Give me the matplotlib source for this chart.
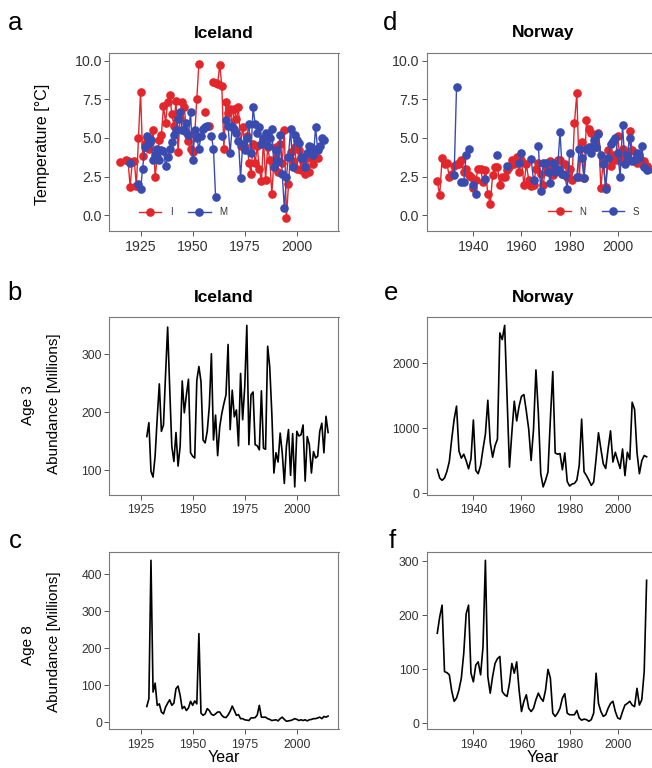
import numpy as np
import matplotlib
matplotlib.use('Agg')
import matplotlib.pyplot as plt
from matplotlib.lines import Line2D

plt.rcParams['font.family'] = ['Liberation Sans', 'DejaVu Sans']

nan = np.nan

# ---------------- data ----------------
# Iceland temperature, series I (red)
I_years = list(range(1915, 2011))
I_temp = [3.45, nan, nan, 3.55, 3.5, 1.85, 3.45, 3.5, 1.9, 5.0,
          8.0, 3.85, 4.6, 5.0, 4.3, 4.9, 5.5, 2.45, 3.8, 4.85,
          5.2, 7.05, 6.0, 7.3, 7.8, 6.55, 5.8, 7.4, 4.1, 6.3,
          7.3, 7.0, 5.4, 4.8, 4.3, 4.1, 5.2, 7.55, 9.8, nan,
          nan, 6.7, nan, 5.8, nan, 8.6, 8.55, 8.5, 9.75, 8.35,
          4.3, 7.3, 6.6, 6.9, 5.7, 6.9, 6.2, 7.0, 4.5, 5.7,
          4.4, 5.1, 3.4, 2.7, 4.6, 3.35, 4.5, 3.0, 2.2, 4.9,
          2.3, 4.4, 3.6, 1.4, 3.5, 4.4, 2.8, 4.6, 3.4, 5.5,
          -0.2, 2.0, 4.1, 3.5, 4.4, 3.0, 4.2, 2.9, 3.5, 2.7,
          3.8, 2.8, 3.7, 3.3, 4.3, 3.7]
# Iceland temperature, series M (blue)
M_years = list(range(1920, 2014))
M_temp = [3.4, nan, nan, nan, 2.0, 1.7, 3.0, 4.4, 5.1, 4.7,
          4.9, 3.6, 3.9, 4.3, 3.6, 4.2, 4.15, 3.2, 3.8, 4.3,
          4.75, 5.2, 5.5, 6.2, 6.7, 5.5, 5.5, 6.0, 5.2, 6.7,
          3.6, 5.5, 5.0, 4.3, 5.1, 5.6, 5.7, 5.8, nan, 5.1,
          4.3, 1.2, nan, nan, 5.15, nan, 6.15, 5.8, 4.0, 5.8,
          5.6, 5.3, 4.8, 2.4, 4.6, 4.2, 5.0, 5.9, 4.0, 7.0,
          5.9, 5.3, 5.7, 4.6, 5.0, 5.3, 4.5, 5.0, 5.55, 3.1,
          4.2, 3.5, 5.2, 2.7, 0.45, 2.5, 3.8, 5.6, 3.1, 5.2,
          4.9, 4.7, 3.7, 3.8, 3.1, 4.0, 4.5, 4.4, 3.9, 5.7,
          4.2, 4.5, 5.0, 4.85]
# Norway temperature, series N (red)
N_years = list(range(1925, 2014))
N_temp = [2.2, 1.3, 3.7, 3.3, 3.35, 2.5, 2.7, 3.2, 3.3, 3.3,
          3.55, 2.8, 3.0, 2.6, 2.5, 1.75, 2.3, 3.0, 3.0, 2.15,
          2.9, 1.4, 0.7, 2.6, 3.1, 3.15, 1.95, 2.5, 2.5, 2.9,
          3.1, 3.55, 3.3, 3.75, 2.8, 3.6, 1.95, 3.3, 2.3, 1.9,
          1.95, 3.0, 3.4, 2.7, 1.95, 3.1, 2.9, 3.5, 2.6, 3.0,
          3.6, 3.6, 2.7, 3.3, 2.5, 3.0, 2.3, 5.95, 7.9, 2.5,
          4.75, 2.4, 6.15, 5.6, 5.3, 4.6, 4.4, 5.3, 1.75, 3.6,
          1.8, 4.2, 3.2, 3.9, 3.6, 5.1, 3.5, 4.3, 3.8, 3.6,
          5.45, 4.2, 3.6, 3.4, 3.9, 3.3, 3.5, 3.2, 3.0]
# Norway temperature, series S (blue)
S_years = list(range(1932, 2013))
S_temp = [2.6, 8.27, nan, 2.16, 2.16, 3.9, 4.3, nan, 1.95, 1.4,
          nan, nan, nan, 2.35, nan, nan, nan, nan, 3.9, nan,
          nan, nan, 3.2, nan, nan, nan, nan, 3.35, 4.0, nan,
          nan, nan, 3.65, 2.25, nan, 4.5, 1.6, 3.4, 3.4, 2.8,
          2.1, 3.4, 2.8, 3.0, 5.4, 2.7, 2.6, 1.7, 4.0, nan,
          nan, 2.5, 4.3, 3.7, 2.4, 4.3, 4.4, 4.0, 4.9, 4.4,
          5.25, 3.9, 3.3, 1.7, 3.7, 4.6, 4.8, 5.0, 4.0, 2.5,
          5.85, 3.3, 3.9, 5.0, 3.5, 3.6, 4.0, 3.7, 4.45, 3.1,
          2.9]

# Iceland abundance age 3
IA3_years = list(range(1928, 2016))
IA3 = [158, 182, 98, 88, 125, 190, 249, 167, 178, 265,
       347, 240, 141, 115, 165, 107, 141, 254, 199, 230,
       257, 130, 124, 121, 255, 279, 253, 152, 147, 167,
       210, 301, 152, 195, 125, 175, 198, 215, 230, 317,
       170, 238, 192, 204, 142, 267, 187, 244, 350, 144,
       230, 235, 144, 142, 135, 237, 138, 136, 314, 278,
       198, 95, 130, 114, 164, 130, 77, 141, 170, 91,
       163, 71, 167, 159, 161, 178, 81, 158, 144, 95,
       132, 121, 124, 167, 181, 130, 193, 165]
# Iceland abundance age 8
IA8_years = list(range(1928, 2016))
IA8 = [43, 64, 438, 82, 106, 46, 50, 28, 23, 41,
       52, 61, 46, 52, 91, 98, 73, 37, 43, 32,
       39, 57, 46, 58, 50, 240, 25, 19, 23, 37,
       32, 22, 19, 23, 28, 28, 19, 14, 13, 20,
       30, 44, 32, 19, 21, 10, 10, 7, 6, 5,
       12, 12, 13, 20, 46, 14, 14, 14, 10, 8,
       5, 6, 7, 4, 10, 14, 8, 3, 4, 5,
       7, 10, 8, 5, 7, 5, 7, 4, 7, 8,
       10, 10, 12, 14, 10, 16, 14, 17]
# Norway abundance age 3
NA3_years = list(range(1925, 2013))
NA3 = [365, 233, 198, 233, 335, 487, 832, 1137, 1340, 650,
       540, 600, 500, 376, 528, 1127, 350, 300, 426, 680,
       909, 1431, 782, 553, 731, 832, 2467, 2365, 2584, 1480,
       401, 934, 1416, 1112, 1340, 1492, 1518, 1264, 985, 503,
       985, 1898, 1239, 300, 96, 198, 325, 1137, 1873, 620,
       600, 610, 360, 620, 180, 110, 140, 150, 200, 430,
       1140, 330, 270, 200, 120, 170, 530, 930, 680, 450,
       380, 680, 960, 480, 630, 500, 380, 680, 270, 630,
       520, 1400, 1290, 630, 300, 500, 580, 560]
# Norway abundance age 8
NA8_years = list(range(1925, 2013))
NA8 = [167, 197, 219, 96, 94, 90, 60, 41, 47, 62,
       84, 130, 203, 219, 93, 77, 108, 114, 90, 142,
       302, 87, 56, 87, 111, 120, 124, 59, 53, 50,
       74, 111, 93, 114, 62, 22, 41, 53, 28, 22,
       28, 44, 56, 47, 41, 62, 100, 84, 19, 13,
       19, 28, 47, 55, 19, 16, 16, 16, 24, 10,
       6, 8, 7, 4, 7, 19, 93, 37, 22, 13,
       16, 28, 37, 41, 22, 10, 8, 22, 34, 37,
       41, 34, 31, 65, 34, 44, 96, 265]

temp_ticks = [0.0, 2.5, 5.0, 7.5, 10.0]
temp_ticklabels = ['0.0', '2.5', '5.0', '7.5', '10.0']
ice_xticks = [1925, 1950, 1975, 2000]
nor_xticks = [1940, 1960, 1980, 2000]

RED = '#e3262b'
BLUE = '#3a4bb0'

# ---------------- layout ----------------
W, H = 652, 768
fig = plt.figure(figsize=(W / 100, H / 100), dpi=100)


def ax_at(x0, y0, x1, y1):
    return fig.add_axes([x0 / W, 1 - y1 / H, (x1 - x0) / W, (y1 - y0) / H])


def ftext(x, y, s, **kw):
    fig.text(x / W, 1 - y / H, s, **kw)


def expand(vals_list):
    v = np.concatenate([np.asarray(a, float) for a in vals_list])
    lo, hi = np.nanmin(v), np.nanmax(v)
    r = hi - lo
    return lo - 0.05 * r, hi + 0.05 * r


def style(ax, size):
    for s in ax.spines.values():
        s.set_color('#7a7a7a')
        s.set_linewidth(0.8)
    ax.tick_params(axis='both', direction='out', length=3.8, width=0.7,
                   color='#555555', labelcolor='#333333', labelsize=size)
    ax.tick_params(axis='y', pad=1.5)
    ax.tick_params(axis='x', pad=3)


XL = (109.3, 338.5)
XR = (426.7, 659.6)
ROWS = [(53.3, 230.7), (317.3, 495.0), (552.3, 729.3)]

ice_xlim = expand([I_years, M_years, IA3_years, IA8_years])
nor_xlim = expand([N_years, S_years, NA3_years, NA8_years])
temp_ylim = (-1.0, 10.48)

axa = ax_at(XL[0], ROWS[0][0], XL[1], ROWS[0][1])
axd = ax_at(XR[0], ROWS[0][0], XR[1], ROWS[0][1])
axb = ax_at(XL[0], ROWS[1][0], XL[1], ROWS[1][1])
axe = ax_at(XR[0], ROWS[1][0], XR[1], ROWS[1][1])
axc = ax_at(XL[0], ROWS[2][0], XL[1], ROWS[2][1])
axf = ax_at(XR[0], ROWS[2][0], XR[1], ROWS[2][1])

mk = dict(marker='o', markersize=5.2, linewidth=1.0)

# temperature panels
axa.plot(I_years, I_temp, color=RED, **mk)
axa.plot(M_years, M_temp, color=BLUE, **mk)
axd.plot(N_years, N_temp, color=RED, **mk)
axd.plot(S_years, S_temp, color=BLUE, **mk)

for ax in (axa, axd):
    ax.set_ylim(*temp_ylim)
    ax.set_yticks(temp_ticks)
    ax.set_yticklabels(temp_ticklabels)

# abundance panels
lw = 1.2
axb.plot(IA3_years, IA3, color='black', linewidth=lw)
axc.plot(IA8_years, IA8, color='black', linewidth=lw)
axe.plot(NA3_years, NA3, color='black', linewidth=lw)
axf.plot(NA8_years, NA8, color='black', linewidth=lw)

axb.set_ylim(*expand([IA3]))
axb.set_yticks([100, 200, 300])
axc.set_ylim(*expand([IA8]))
axc.set_yticks([0, 100, 200, 300, 400])
axe.set_ylim(*expand([NA3]))
axe.set_yticks([0, 1000, 2000])
axf.set_ylim(*expand([NA8]))
axf.set_yticks([0, 100, 200, 300])

for ax in (axa, axb, axc):
    ax.set_xlim(*ice_xlim)
    ax.set_xticks(ice_xticks)
for ax in (axd, axe, axf):
    ax.set_xlim(*nor_xlim)
    ax.set_xticks(nor_xticks)

for ax in (axa, axd):
    style(ax, 10.2)
for ax in (axb, axc, axe, axf):
    style(ax, 8.8)

# legends
def add_legend(ax, labels, cx, cy):
    h = [Line2D([], [], color=RED, **mk), Line2D([], [], color=BLUE, **mk)]
    leg = ax.legend(h, labels, ncol=2, loc='center', bbox_to_anchor=(cx, cy),
                    frameon=False, fontsize=7, handlelength=2.3,
                    handletextpad=0.9, columnspacing=1.6, numpoints=1,
                    borderaxespad=0, borderpad=0)
    for t in leg.get_texts():
        t.set_color('#333333')

add_legend(axa, ['I', 'M'], 0.322, 0.104)
add_legend(axd, ['N', 'S'], 0.718, 0.107)

# titles
for yc in (33, 298):
    ftext(223.9, yc, 'Iceland', ha='center', va='center', fontsize=12.5,
          fontweight='bold')
    ftext(543.2, yc, 'Norway', ha='center', va='center', fontsize=12.5,
          fontweight='bold')

# panel letters
for s, x, y in [('a', 15, 30), ('b', 15, 300), ('c', 15, 548),
                ('d', 390, 30), ('e', 391, 300), ('f', 392, 548)]:
    ftext(x, y, s, ha='center', va='baseline', fontsize=18.5)

# axis titles
ftext(42, 144, 'Temperature [°C]', rotation=90, ha='center', va='center',
      fontsize=11.5)
ftext(28, 405, 'Age 3', rotation=90, ha='center', va='center', fontsize=11)
ftext(54, 404, 'Abundance [Millions]', rotation=90, ha='center', va='center',
      fontsize=11)
ftext(28, 645, 'Age 8', rotation=90, ha='center', va='center', fontsize=11)
ftext(54, 642, 'Abundance [Millions]', rotation=90, ha='center', va='center',
      fontsize=11)
ftext(223.9, 758, 'Year', ha='center', va='center', fontsize=11.5)
ftext(543.2, 758, 'Year', ha='center', va='center', fontsize=11.5)

fig.savefig('out.png', dpi=100)
